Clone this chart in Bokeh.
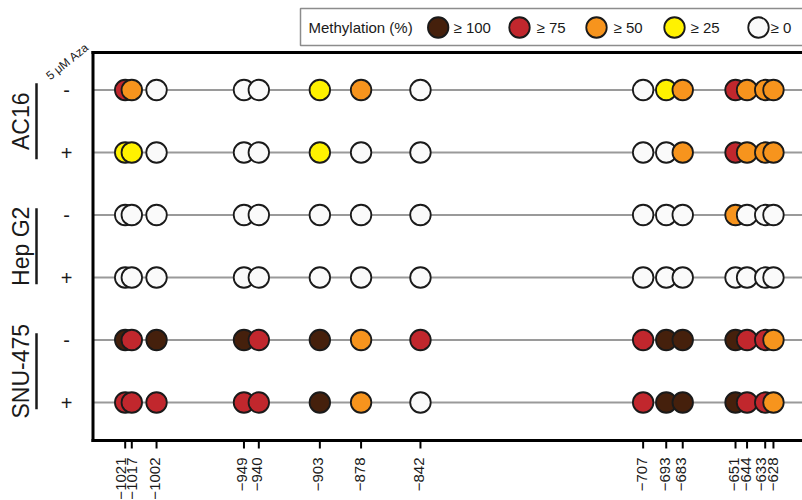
import math
from bokeh.plotting import figure
from bokeh.models import Range1d, ColumnDataSource
from bokeh.embed import file_html
from bokeh.resources import INLINE
from bokeh.core.properties import value

# ---------------- data ----------------
positions = [-1021, -1017, -1002, -949, -940, -903, -878, -842,
             -707, -693, -683, -651, -644, -633, -628]
tick_labels = ["\u22121021", "\u22121017", "\u22121002", "\u2212949", "\u2212940",
               "\u2212903", "\u2212878", "\u2212842", "\u2212707", "\u2212693",
               "\u2212683", "\u2212651", "\u2212644", "\u2212633", "\u2212628"]

cell_lines = ["AC16", "Hep G2", "SNU-475"]
aza_labels = ["-", "+", "-", "+", "-", "+"]

ac16_minus = [75, 50, 0, 0, 0, 25, 50, 0, 0, 25, 50, 75, 50, 50, 50]
ac16_plus = [25, 25, 0, 0, 0, 25, 0, 0, 0, 0, 50, 75, 50, 50, 50]
hepg2_minus = [0, 0, 0, 0, 0, 0, 0, 0, 0, 0, 0, 50, 0, 0, 0]
hepg2_plus = [0, 0, 0, 0, 0, 0, 0, 0, 0, 0, 0, 0, 0, 0, 0]
snu475_minus = [100, 75, 100, 100, 75, 100, 50, 75, 75, 100, 100, 100, 75, 75, 50]
snu475_plus = [75, 75, 75, 75, 75, 100, 50, 0, 75, 100, 100, 100, 75, 75, 50]
rows = [ac16_minus, ac16_plus, hepg2_minus, hepg2_plus, snu475_minus, snu475_plus]

legend_title = "Methylation (%)"
legend_levels = [100, 75, 50, 25, 0]
legend_labels = ["\u2265 100", "\u2265 75", "\u2265 50", "\u2265 25", "\u2265 0"]
level_colors = ["#45200C", "#C1272D", "#F7941D", "#FFF200", "#FAFAFA"]

# ---------------- layout ----------------
FONT = "Liberation Sans"
W, H = 802, 500
PX_PER_X = 1.6495                     # pixels per base pair
X_LO = -1021 - 124.7 / PX_PER_X
X_HI = X_LO + W / PX_PER_X
N = len(rows)
ROW_TOP_PX, ROW_STEP_PX = 89.5, 62.5
Y_HI = (N - 1) + ROW_TOP_PX / ROW_STEP_PX
Y_LO = Y_HI - H / ROW_STEP_PX


def sx(px):
    return X_LO + px / PX_PER_X


def sy(py):
    return Y_HI - py / ROW_STEP_PX


def color_for(v):
    for lvl, c in zip(legend_levels, level_colors):
        if v >= lvl:
            return c
    return level_colors[-1]


row_y = [N - 1 - i for i in range(N)]
BORDER_X = sx(92.5)
TOP_Y = sy(52)
BOT_Y = sy(440)
RIGHT_X = X_HI + 20

p = figure(width=W, height=H, output_backend="svg", toolbar_location=None,
           x_range=Range1d(X_LO, X_HI), y_range=Range1d(Y_LO, Y_HI),
           x_axis_location=None, y_axis_location=None, min_border=0,
           background_fill_color="white")
p.outline_line_color = None
p.grid.visible = False

# row guide lines
p.segment(x0=[BORDER_X] * N, x1=[RIGHT_X] * N, y0=row_y, y1=row_y,
          line_color="#9a9a9a", line_width=2)

# dots
xs, ys, cs = [], [], []
for yv, vals in zip(row_y, rows):
    for x, v in zip(positions, vals):
        xs.append(x)
        ys.append(yv)
        cs.append(color_for(v))
src = ColumnDataSource(dict(x=xs, y=ys, c=cs))
p.scatter("x", "y", source=src, size=20.5, fill_color="c",
          line_color="#1a1a1a", line_width=1.8)

# frame borders (left, top, bottom)
p.segment(x0=[BORDER_X, BORDER_X, BORDER_X], x1=[BORDER_X, RIGHT_X, RIGHT_X],
          y0=[BOT_Y, TOP_Y, BOT_Y], y1=[TOP_Y, TOP_Y, BOT_Y],
          line_color="black", line_width=3, line_cap="square")

# x ticks and labels
p.segment(x0=positions, x1=positions, y0=[BOT_Y] * len(positions),
          y1=[sy(448)] * len(positions), line_color="black", line_width=2)
label_nudge_px = [-4.5, 0, -1.5, -1.5, -1.5, -1.5, -1.5, -1.5,
                  -1.5, -1.5, -1.5, -1.5, -1.5, -4, 0]
p.text(x=positions, y=[sy(457)] * len(positions), text=tick_labels,
       x_offset=label_nudge_px, angle=math.pi / 2, text_font=value(FONT),
       text_font_size="15px", text_align="right", text_baseline="middle",
       text_color="#1a1a1a")

# left labels
p.text(x=[sx(66)] * N, y=row_y, text=aza_labels, text_font=value(FONT),
       text_font_size="20px", text_align="center", text_baseline="middle",
       text_color="#1a1a1a")
group_y = [(row_y[2 * g] + row_y[2 * g + 1]) / 2 for g in range(len(cell_lines))]
p.text(x=[sx(20.5)] * len(cell_lines), y=group_y, text=cell_lines,
       text_font=value(FONT), text_font_size="23px", angle=math.pi / 2,
       text_align="center", text_baseline="middle", text_color="#1a1a1a")
half = 38 / ROW_STEP_PX
p.segment(x0=[sx(36)] * 3, x1=[sx(36)] * 3,
          y0=[g - half for g in group_y], y1=[g + half for g in group_y],
          line_color="#1a1a1a", line_width=2.5)
p.text(x=[sx(67)], y=[sy(61)], text=["5 \u03bcM Aza"], text_font=value(FONT),
       text_font_size="12px", angle=0.68, text_align="center",
       text_baseline="middle", text_color="#1a1a1a")

# legend (manual)
leg_y = sy(27)
p.quad(left=[sx(300)], right=[RIGHT_X], top=[sy(8)], bottom=[sy(45)],
       fill_color="white", line_color="#8c8c8c", line_width=1.5)
p.text(x=[sx(308)], y=[leg_y], text=[legend_title], text_font=value(FONT),
       text_font_size="15px", text_align="left", text_baseline="middle",
       text_color="#1a1a1a")
leg_circle_px = [437.7, 519, 596, 674, 758]
leg_text_px = [453, 536, 613, 690, 770]
p.scatter(x=[sx(v) for v in leg_circle_px], y=[leg_y] * 5, size=20.5,
          fill_color=level_colors, line_color="#1a1a1a", line_width=1.8)
p.text(x=[sx(v) for v in leg_text_px], y=[leg_y] * 5, text=legend_labels,
       text_font=value(FONT), text_font_size="15px", text_align="left",
       text_baseline="middle", text_color="#1a1a1a")

open("out.html", "w").write(file_html(p, INLINE))
